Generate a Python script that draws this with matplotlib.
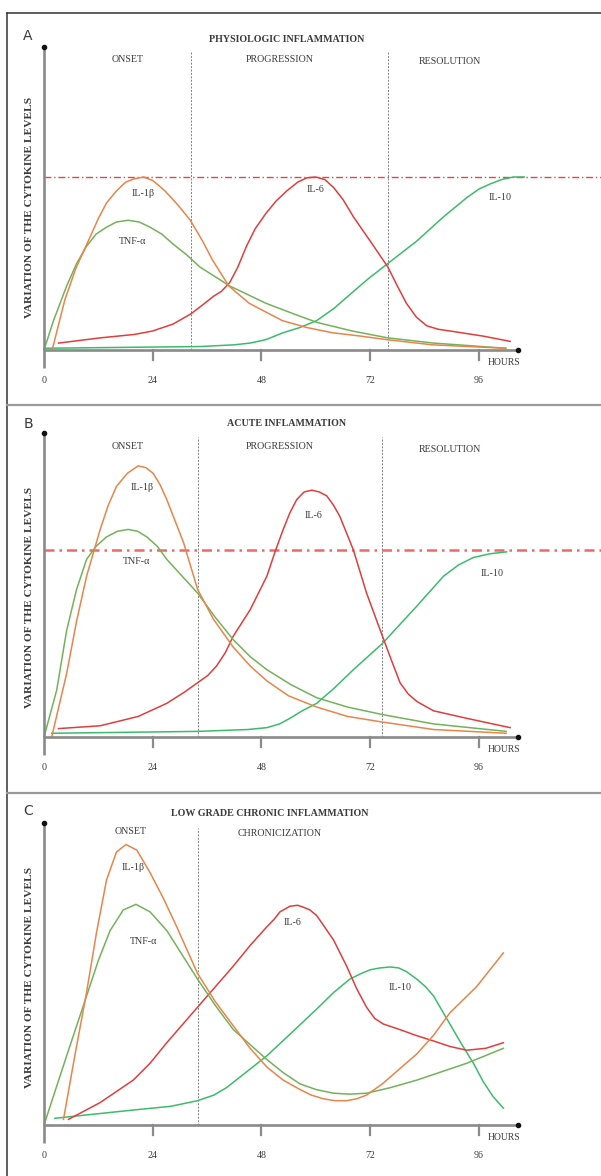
import matplotlib
matplotlib.use("Agg")
import matplotlib.pyplot as plt
from matplotlib.lines import Line2D

W, H = 601, 1176

# ---------------- data ----------------
tick_hours = [0, 24, 48, 72, 96]
tick_labels = ["0", "24", "48", "72", "96"]

# Panel A - physiologic
A_il1b_h = [1.8, 4.6, 7, 9.6, 12, 13.8, 16, 18, 20, 22, 24, 26.7, 29.5, 32.3, 35, 37.2, 40.8, 45.3, 52.6, 58, 63.6, 70, 75.6, 85.7, 101.8]
A_il1b_v = [0.0, 0.29, 0.47, 0.62, 0.76, 0.85, 0.92, 0.97, 0.99, 1.0, 0.98, 0.92, 0.84, 0.75, 0.63, 0.52, 0.37, 0.27, 0.17, 0.13, 0.10, 0.08, 0.06, 0.03, 0.01]
A_tnf_h = [0, 2.1, 5, 7.2, 9.4, 11.5, 13.8, 16, 18.6, 21, 23.4, 26, 28.6, 31.5, 34.4, 41, 49, 55, 60.2, 68, 75.9, 86, 102]
A_tnf_v = [0, 0.17, 0.37, 0.50, 0.60, 0.67, 0.71, 0.74, 0.75, 0.74, 0.71, 0.67, 0.61, 0.55, 0.48, 0.37, 0.27, 0.21, 0.16, 0.11, 0.07, 0.04, 0.01]
A_il6_h = [3.2, 12.4, 20, 24, 28.5, 32.5, 35, 37.4, 39.2, 41, 42.8, 44.7, 46.6, 49, 51.2, 53.6, 56, 58, 60, 62, 63.9, 66, 68.3, 72, 75.9, 78, 80, 82.2, 84.5, 87, 89.6, 97, 102.9]
A_il6_v = [0.04, 0.07, 0.09, 0.11, 0.15, 0.21, 0.26, 0.31, 0.34, 0.39, 0.48, 0.60, 0.70, 0.79, 0.86, 0.92, 0.97, 0.995, 1.0, 0.985, 0.94, 0.87, 0.77, 0.63, 0.48, 0.37, 0.27, 0.19, 0.14, 0.12, 0.11, 0.08, 0.05]
A_il10_h = [0, 34.4, 42, 45.5, 49, 52.8, 56.5, 60.2, 64, 67.5, 71.5, 75.9, 82.3, 88.2, 93.3, 96, 98.5, 101, 103.6, 106]
A_il10_v = [0.01, 0.02, 0.03, 0.04, 0.06, 0.10, 0.13, 0.17, 0.24, 0.32, 0.41, 0.50, 0.63, 0.77, 0.88, 0.93, 0.96, 0.985, 1.0, 1.0]

# Panel B - acute
B_il1b_h = [1.7, 5, 7.2, 9.4, 12.4, 14.2, 16, 18.4, 20.8, 22.5, 24.1, 25.6, 27.1, 30.8, 33.9, 37.4, 41.8, 45.5, 49.2, 54, 60.2, 67, 74.7, 86, 102]
B_il1b_v = [0.0, 0.34, 0.62, 0.86, 1.11, 1.24, 1.34, 1.41, 1.45, 1.44, 1.41, 1.35, 1.27, 1.04, 0.79, 0.63, 0.48, 0.38, 0.30, 0.22, 0.16, 0.11, 0.08, 0.04, 0.02]
B_tnf_h = [0, 2.8, 5, 7.2, 9.4, 11.5, 13.8, 16.2, 18.6, 20.7, 22.7, 25, 27.1, 30.5, 33.9, 37.8, 41.8, 45.5, 49.2, 54.5, 60.2, 67, 74.7, 86, 102]
B_tnf_v = [0, 0.25, 0.57, 0.79, 0.95, 1.02, 1.07, 1.10, 1.11, 1.10, 1.07, 1.02, 0.95, 0.86, 0.77, 0.64, 0.52, 0.43, 0.36, 0.28, 0.21, 0.16, 0.12, 0.07, 0.03]
B_il6_h = [3.2, 12.4, 20.8, 27.1, 31, 33.9, 36.2, 38.1, 40, 41.8, 45.5, 49.2, 51, 52.8, 54.3, 55.8, 57.4, 59.1, 60.8, 62.4, 63.9, 65.3, 68.3, 71.2, 74.7, 76.7, 78.6, 80.4, 82.3, 86, 93.3, 102.9]
B_il6_v = [0.045, 0.06, 0.11, 0.18, 0.24, 0.29, 0.33, 0.38, 0.45, 0.54, 0.68, 0.86, 0.99, 1.11, 1.20, 1.27, 1.31, 1.32, 1.31, 1.29, 1.24, 1.18, 1.0, 0.77, 0.54, 0.41, 0.29, 0.23, 0.19, 0.14, 0.10, 0.05]
B_il10_h = [1.7, 33.9, 45, 49.2, 52, 54.3, 57, 60.2, 64, 68.3, 74.7, 82.3, 88.2, 91.5, 94.8, 98.5, 102.1]
B_il10_v = [0.02, 0.03, 0.04, 0.05, 0.07, 0.10, 0.14, 0.18, 0.26, 0.36, 0.50, 0.70, 0.86, 0.92, 0.96, 0.98, 0.99]

# Panel C - low grade chronic
C_il1b_h = [4.3, 6.8, 9.4, 11.6, 13.8, 16, 18.1, 20.5, 23.4, 26.4, 29.3, 33.9, 37.8, 41.8, 45.5, 49.2, 52.8, 56.5, 59, 61.7, 64.2, 66.8, 69, 71.2, 74.7, 78.5, 82.3, 86, 89.6, 95.5, 101.4]
C_il1b_v = [0.03, 0.37, 0.71, 1.03, 1.31, 1.46, 1.50, 1.47, 1.35, 1.21, 1.06, 0.81, 0.66, 0.53, 0.41, 0.31, 0.24, 0.19, 0.16, 0.14, 0.13, 0.13, 0.14, 0.16, 0.22, 0.30, 0.38, 0.48, 0.60, 0.74, 0.92]
C_tnf_h = [0, 5, 9.4, 12, 14.6, 17.5, 20.3, 23.4, 27.1, 30.5, 33.9, 37.8, 41.8, 45.5, 49.2, 52.8, 56.5, 60, 63.9, 67.5, 71.2, 76.5, 82.3, 93.3, 101.4]
C_tnf_v = [0, 0.37, 0.69, 0.88, 1.04, 1.15, 1.18, 1.14, 1.04, 0.91, 0.78, 0.64, 0.51, 0.43, 0.35, 0.28, 0.22, 0.19, 0.17, 0.165, 0.17, 0.20, 0.24, 0.33, 0.41]
C_il6_h = [5.4, 12.4, 19.7, 23.4, 27.1, 33.9, 41.8, 45.5, 49.2, 50.8, 52.1, 54.3, 56, 57.2, 58.7, 60.2, 63.9, 66.8, 69, 71.2, 73, 74.9, 78.6, 82, 85.9, 89.6, 93.3, 97.5, 101.4]
C_il6_v = [0.03, 0.12, 0.24, 0.33, 0.44, 0.63, 0.85, 0.96, 1.06, 1.10, 1.14, 1.17, 1.175, 1.165, 1.15, 1.12, 0.99, 0.85, 0.73, 0.63, 0.57, 0.54, 0.51, 0.48, 0.45, 0.42, 0.40, 0.41, 0.44]
C_il10_h = [2.4, 19.7, 28, 33.9, 37.5, 40.3, 44.5, 49.2, 54.5, 60.2, 64, 67.5, 70, 72, 74.2, 76.4, 78.3, 80, 82.3, 84.2, 86, 89.6, 92, 94.8, 97, 99.2, 101.4]
C_il10_v = [0.036, 0.08, 0.10, 0.13, 0.16, 0.20, 0.28, 0.37, 0.49, 0.62, 0.71, 0.78, 0.81, 0.83, 0.84, 0.845, 0.84, 0.82, 0.78, 0.74, 0.69, 0.54, 0.44, 0.33, 0.23, 0.15, 0.09]

threshold_level = 1.0

# ---------------- style ----------------
C_ORANGE = "#e8854a"
C_TNF = "#74b25a"
C_IL10 = "#3dbb6c"
C_RED = "#e03e3e"
AXIS_GRAY = "#8a8a8a"
SERIF = ["Liberation Serif", "DejaVu Serif"]
TXT = "#3a3a3a"

fig = plt.figure(figsize=(W / 100, H / 100), dpi=100)
fig.patch.set_facecolor("white")

PX_PER_HOUR = 4.53
X0 = 44


def fx(px):
    return px / W


def fy(py):
    return 1 - py / H


def make_panel(base_py, top_py, unit):
    ax = fig.add_axes([fx(X0), fy(base_py), fx(W) - fx(X0), (base_py - top_py) / H])
    ax.set_xlim(0, (W - X0) / PX_PER_HOUR)
    ax.set_ylim(0, (base_py - top_py) / unit)
    ax.axis("off")
    return ax


def draw_axes(ax, unit, ytop):
    below = 18 / unit
    xend = (518 - X0) / PX_PER_HOUR
    ax.plot([0, 0], [-below, ytop], color=AXIS_GRAY, lw=1.9, clip_on=False, zorder=3,
            solid_capstyle="butt")
    ax.plot([0, xend], [0, 0], color=AXIS_GRAY, lw=1.9, clip_on=False, zorder=3,
            solid_capstyle="butt")
    ax.plot([0], [ytop], "o", color="#111111", ms=3, clip_on=False, zorder=4)
    ax.plot([xend], [0], "o", color="#111111", ms=3, clip_on=False, zorder=4)
    for h in tick_hours[1:]:
        ax.plot([h, h], [0, -10 / unit], color=AXIS_GRAY, lw=1.6, clip_on=False, zorder=3)
    for h, lab in zip(tick_hours, tick_labels):
        ax.text(h, -30 / unit, lab, ha="center", va="center", fontsize=7.2,
                family=SERIF, color=TXT, clip_on=False)
    ax.text((488 - X0) / PX_PER_HOUR, -12 / unit, "HOURS", ha="left", va="center",
            fontsize=6.9, family=SERIF, color=TXT, clip_on=False)


def vline(ax, h, top_level):
    ax.plot([h, h], [0, top_level], color="#808080", lw=0.7, ls=(0, (2, 1.5)),
            clip_on=False, zorder=1)


def curves(ax, data):
    for hs, vs, c in data:
        ax.plot(hs, vs, color=c, lw=1.1, clip_on=False, zorder=2,
                solid_joinstyle="round")


def ylabel(py_center):
    fig.text(fx(30), fy(py_center), "VARIATION OF THE CYTOKINE LEVELS", rotation=90,
             ha="center", va="center", fontsize=8.2, fontweight="bold", family=SERIF,
             color=TXT)


def lab(ax, h, v, s):
    ax.text(h, v, s, ha="center", va="center", fontsize=7.2, family=SERIF,
            color=TXT, clip_on=False)


def txt(px, py, s, size=7.2, bold=False):
    fig.text(fx(px), fy(py), s, ha="center", va="center", fontsize=size,
             fontweight="bold" if bold else "normal", family=SERIF, color=TXT)


# ---------------- borders ----------------
fig.add_artist(Line2D([fx(7), fx(7)], [fy(13), fy(H)], color="#333333", lw=1.1))
fig.add_artist(Line2D([fx(7), fx(W)], [fy(13), fy(13)], color="#333333", lw=1.1))
fig.add_artist(Line2D([fx(7), fx(W)], [fy(405), fy(405)], color="#9a9a9a", lw=1.6))
fig.add_artist(Line2D([fx(7), fx(W)], [fy(793), fy(793)], color="#9a9a9a", lw=1.6))

# ---------------- panel A ----------------
unitA = 173
axA = make_panel(350, 47, unitA)
ytopA = (350 - 47) / unitA
vline(axA, 32.5, (350 - 52) / unitA)
vline(axA, 75.9, (350 - 52) / unitA)
axA.plot([0, (W - X0) / PX_PER_HOUR], [threshold_level] * 2, color="#e04848", lw=1.0,
         ls=(0, (5, 2, 1, 2)), clip_on=False, zorder=1)
curves(axA, [(A_il10_h, A_il10_v, C_IL10), (A_il6_h, A_il6_v, C_RED),
             (A_tnf_h, A_tnf_v, C_TNF), (A_il1b_h, A_il1b_v, C_ORANGE)])
draw_axes(axA, unitA, ytopA)
lab(axA, (143 - X0) / PX_PER_HOUR, (350 - 193) / unitA, "IL-1β")
lab(axA, (133 - X0) / PX_PER_HOUR, (350 - 241) / unitA, "TNF-α")
lab(axA, (315 - X0) / PX_PER_HOUR, (350 - 189) / unitA, "IL-6")
lab(axA, (500 - X0) / PX_PER_HOUR, (350 - 197) / unitA, "IL-10")
fig.text(fx(28), fy(36), "A", ha="center", va="center", fontsize=10, color=TXT)
txt(287, 39, "PHYSIOLOGIC INFLAMMATION", size=7.2, bold=True)
txt(128, 60, "ONSET")
txt(280, 60, "PROGRESSION")
txt(450, 62, "RESOLUTION")
ylabel(207)

# ---------------- panel B ----------------
unitB = 187
axB = make_panel(737, 433, unitB)
ytopB = (737 - 433) / unitB
vline(axB, 33.9, (737 - 437) / unitB)
vline(axB, 74.7, (737 - 437) / unitB)
axB.plot([0, (W - X0) / PX_PER_HOUR], [threshold_level] * 2, color="#ea6a6a", lw=1.8,
         ls=(0, (4, 2, 1, 2)), clip_on=False, zorder=1)
curves(axB, [(B_il10_h, B_il10_v, C_IL10), (B_il6_h, B_il6_v, C_RED),
             (B_tnf_h, B_tnf_v, C_TNF), (B_il1b_h, B_il1b_v, C_ORANGE)])
draw_axes(axB, unitB, ytopB)
lab(axB, (142 - X0) / PX_PER_HOUR, (737 - 487) / unitB, "IL-1β")
lab(axB, (137 - X0) / PX_PER_HOUR, (737 - 562) / unitB, "TNF-α")
lab(axB, (313 - X0) / PX_PER_HOUR, (737 - 516) / unitB, "IL-6")
lab(axB, (492 - X0) / PX_PER_HOUR, (737 - 573) / unitB, "IL-10")
fig.text(fx(28), fy(424), "B", ha="center", va="center", fontsize=10, color=TXT)
txt(287, 424, "ACUTE INFLAMMATION", size=7.2, bold=True)
txt(128, 447, "ONSET")
txt(280, 447, "PROGRESSION")
txt(450, 449, "RESOLUTION")
ylabel(597)

# ---------------- panel C ----------------
unitC = 187
axC = make_panel(1125, 823, unitC)
ytopC = (1125 - 823) / unitC
vline(axC, 33.9, (1125 - 828) / unitC)
curves(axC, [(C_il10_h, C_il10_v, C_IL10), (C_il6_h, C_il6_v, C_RED),
             (C_tnf_h, C_tnf_v, C_TNF), (C_il1b_h, C_il1b_v, C_ORANGE)])
draw_axes(axC, unitC, ytopC)
lab(axC, (133 - X0) / PX_PER_HOUR, (1125 - 867) / unitC, "IL-1β")
lab(axC, (144 - X0) / PX_PER_HOUR, (1125 - 941) / unitC, "TNF-α")
lab(axC, (292 - X0) / PX_PER_HOUR, (1125 - 923) / unitC, "IL-6")
lab(axC, (400 - X0) / PX_PER_HOUR, (1125 - 988) / unitC, "IL-10")
fig.text(fx(28), fy(811), "C", ha="center", va="center", fontsize=10, color=TXT)
txt(270, 813, "LOW GRADE CHRONIC INFLAMMATION", size=7.2, bold=True)
txt(131, 831, "ONSET")
txt(280, 834, "CHRONICIZATION")
ylabel(977)

fig.savefig("out.png", dpi=100)
